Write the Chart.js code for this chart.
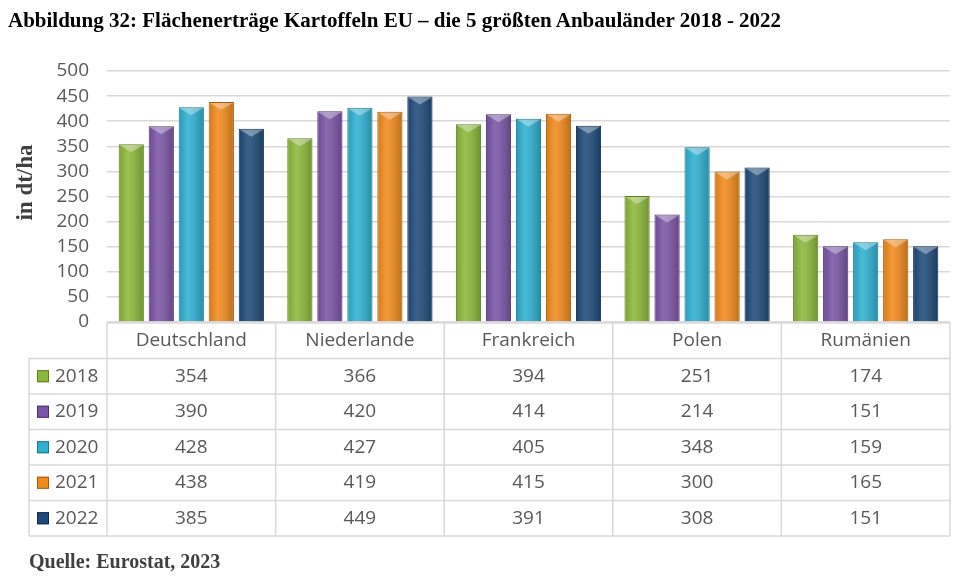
<!DOCTYPE html>
<html>
<head>
<meta charset="utf-8">
<script src="https://cdn.jsdelivr.net/npm/chart.js@4/dist/chart.umd.min.js"></script>
<style>
    body { margin: 0; background: #fff; width: 955px; height: 582px; overflow: hidden; position: relative; }
    #title { position: absolute; left: 8px; top: 8px; font: bold 21px "Liberation Serif", serif; color: #000; white-space: nowrap; }
    #source { position: absolute; left: 29px; top: 550px; font: bold 20px "Liberation Serif", serif; color: #404040; white-space: nowrap; }
    #wrap { position: absolute; left: 0; top: 0; width: 955px; height: 582px; }
</style>
</head>
<body>
<div id="wrap"><canvas id="chart"></canvas></div>
<div id="title">Abbildung 32: Flächenerträge Kartoffeln EU – die 5 größten Anbauländer 2018 - 2022</div>
<div id="source">Quelle: Eurostat, 2023</div>
<script>
const countries = ['Deutschland', 'Niederlande', 'Frankreich', 'Polen', 'Rumänien'];
const years = ['2018', '2019', '2020', '2021', '2022'];
const values2018 = [354, 366, 394, 251, 174];
const values2019 = [390, 420, 414, 214, 151];
const values2020 = [428, 427, 405, 348, 159];
const values2021 = [438, 419, 415, 300, 165];
const values2022 = [385, 449, 391, 308, 151];
const yTicks = [0, 50, 100, 150, 200, 250, 300, 350, 400, 450, 500];
const yTitle = 'in dt/ha';

const colors = ['#8cb83a', '#7b54a6', '#2eb0d2', '#f28a1c', '#1e4a7a'];
const borders = ['#5e7f22', '#4f3173', '#1a7890', '#a85a0c', '#10294a'];
const allValues = [values2018, values2019, values2020, values2021, values2022];

const TEXT = '#595959';
const LINE = '#d9d9d9';
const ROW_H = 35.5;

// light shading + bevelled top so bars look a bit like the 3D original
const bevelPlugin = {
    id: 'bevel',
    afterDatasetsDraw(chart) {
        const ctx = chart.ctx;
        ctx.save();
        chart.data.datasets.forEach((ds, i) => {
            chart.getDatasetMeta(i).data.forEach(bar => {
                const half = bar.width / 2;
                const left = bar.x - half, right = bar.x + half;
                const g = ctx.createLinearGradient(left, 0, right, 0);
                g.addColorStop(0, 'rgba(0,0,0,0.12)');
                g.addColorStop(0.35, 'rgba(255,255,255,0.12)');
                g.addColorStop(1, 'rgba(0,0,0,0.22)');
                ctx.fillStyle = g;
                ctx.fillRect(left + 1, bar.y + 1, bar.width - 2, bar.base - bar.y - 1);
                ctx.fillStyle = 'rgba(255,255,255,0.35)';
                ctx.beginPath();
                ctx.moveTo(left + 1, bar.y + 1);
                ctx.lineTo(right - 1, bar.y + 1);
                ctx.lineTo(bar.x, bar.y + 8);
                ctx.closePath();
                ctx.fill();
            });
        });
        ctx.restore();
    }
};

const tablePlugin = {
    id: 'dataTable',
    afterDraw(chart) {
        const ctx = chart.ctx;
        const area = chart.chartArea;
        const x = chart.scales.x;
        const colW = (area.right - area.left) / countries.length;
        const top = area.bottom + 1;
        const legendLeft = 29;
        ctx.save();

        // y axis title, a bit above the middle like the original
        ctx.save();
        ctx.translate(26, (area.top + area.bottom) / 2 - 14);
        ctx.rotate(-Math.PI / 2);
        ctx.fillStyle = '#404040';
        ctx.font = 'bold 23px "Liberation Serif", serif';
        ctx.textAlign = 'center';
        ctx.textBaseline = 'middle';
        ctx.fillText(yTitle, 0, 0);
        ctx.restore();

        ctx.strokeStyle = LINE;
        ctx.lineWidth = 1.5;
        for (let r = 0; r <= 6; r++) {
            const y = top + r * ROW_H;
            ctx.beginPath();
            ctx.moveTo(r === 0 ? area.left : legendLeft, y);
            ctx.lineTo(area.right, y);
            ctx.stroke();
        }
        for (let c = 0; c <= countries.length; c++) {
            const xx = area.left + c * colW;
            ctx.beginPath();
            ctx.moveTo(xx, top);
            ctx.lineTo(xx, top + 6 * ROW_H);
            ctx.stroke();
        }
        ctx.beginPath();
        ctx.moveTo(legendLeft, top + ROW_H);
        ctx.lineTo(legendLeft, top + 6 * ROW_H);
        ctx.stroke();

        ctx.fillStyle = TEXT;
        ctx.font = '19px "Open Sans", sans-serif';
        ctx.textAlign = 'center';
        ctx.textBaseline = 'middle';
        countries.forEach((name, i) => {
            ctx.fillText(name, x.getPixelForValue(i), top + ROW_H / 2);
        });
        allValues.forEach((vals, r) => {
            const y = top + (r + 1.5) * ROW_H;
            ctx.fillStyle = TEXT;
            ctx.textAlign = 'center';
            vals.forEach((v, i) => ctx.fillText(String(v), x.getPixelForValue(i), y));
            ctx.fillStyle = colors[r];
            ctx.fillRect(37, y - 6, 12, 12);
            ctx.strokeStyle = borders[r];
            ctx.lineWidth = 1;
            ctx.strokeRect(37.5, y - 5.5, 11, 11);
            ctx.fillStyle = TEXT;
            ctx.textAlign = 'left';
            ctx.fillText(years[r], 55, y);
        });
        ctx.restore();
    }
};

new Chart(document.getElementById('chart'), {
    type: 'bar',
    data: {
        labels: countries,
        datasets: years.map((yr, i) => ({
            label: yr,
            data: allValues[i],
            backgroundColor: colors[i],
            borderColor: borders[i],
            borderWidth: 1,
            barPercentage: 0.84,
            categoryPercentage: 0.89
        }))
    },
    options: {
        responsive: true,
        maintainAspectRatio: false,
        animation: false,
        layout: { padding: { top: 71, right: 5, bottom: 252, left: 0 } },
        plugins: {
            legend: { display: false },
            tooltip: { enabled: false }
        },
        scales: {
            x: {
                ticks: { display: false },
                grid: { display: false },
                border: { display: false }
            },
            y: {
                min: 0,
                max: 500,
                afterBuildTicks(scale) {
                    scale.ticks = yTicks.map(v => ({ value: v }));
                },
                afterFit(scale) { scale.width = 107; },
                ticks: {
                    color: TEXT,
                    font: { family: '"Open Sans", sans-serif', size: 19 },
                    padding: 18,
                    autoSkip: false
                },
                grid: { color: LINE, lineWidth: 1.5, drawTicks: false },
                border: { display: false }
            }
        }
    },
    plugins: [bevelPlugin, tablePlugin]
});
</script>
</body>
</html>
